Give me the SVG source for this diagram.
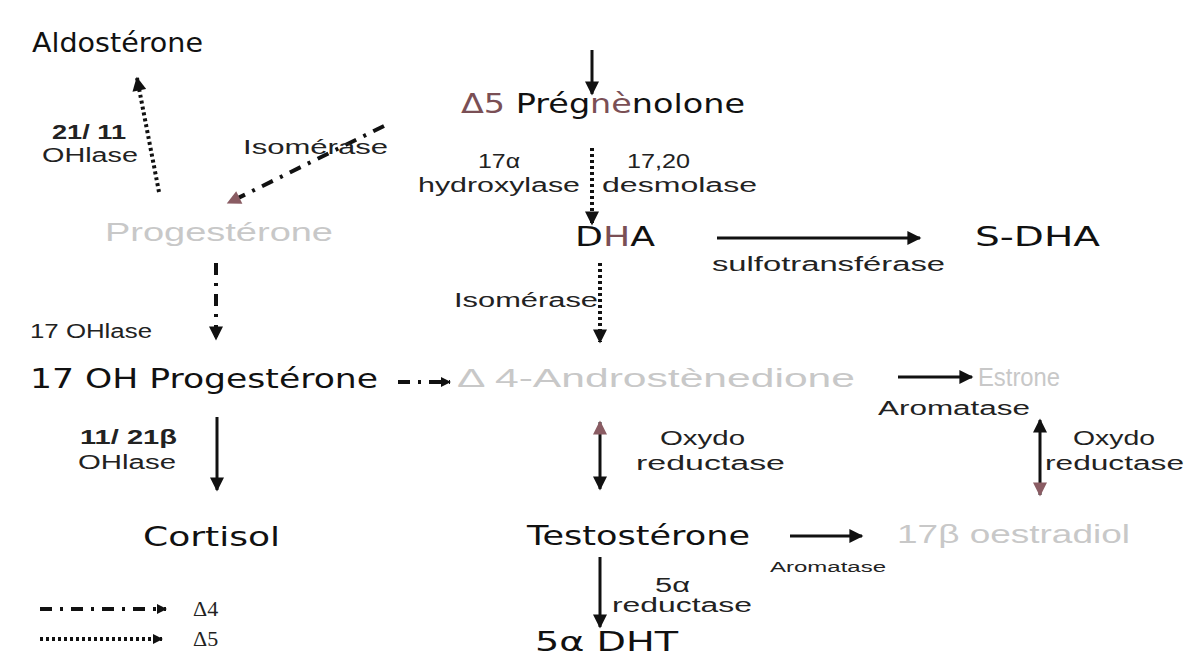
<svg xmlns="http://www.w3.org/2000/svg" width="1184" height="663" viewBox="0 0 1184 663">
<style>
.t{font-family:"DejaVu Sans","Liberation Sans",sans-serif;font-size:27px;fill:#111;}
.f{font-family:"Liberation Sans","DejaVu Sans",sans-serif;font-size:26px;fill:#c8c8c8;}
.l{font-family:"Liberation Sans","DejaVu Sans",sans-serif;font-size:20px;fill:#222;}
.s{font-family:"Liberation Sans",sans-serif;font-size:14px;fill:#222;}
.g{font-family:"Liberation Serif",serif;font-size:22px;fill:#222;}
.solid{stroke:#111;stroke-width:3;fill:none;}
.dot{stroke:#111;stroke-width:4;fill:none;stroke-dasharray:3 3;}
.dd{stroke:#111;stroke-width:4;fill:none;stroke-dasharray:12 8 3 8;}
.red{fill:#7a4f55;}
</style>
<defs>
<marker id="ah" viewBox="0 0 10 10" refX="9" refY="5" markerWidth="16" markerHeight="14" markerUnits="userSpaceOnUse" orient="auto-start-reverse"><path d="M0,0 L10,5 L0,10 z" fill="#111"/></marker>
<marker id="ahr" viewBox="0 0 10 10" refX="9" refY="5" markerWidth="16" markerHeight="14" markerUnits="userSpaceOnUse" orient="auto-start-reverse"><path d="M0,0 L10,5 L0,10 z" fill="#8a5c63"/></marker>
<marker id="ahs" viewBox="0 0 10 10" refX="9" refY="5" markerWidth="12" markerHeight="10" markerUnits="userSpaceOnUse" orient="auto"><path d="M0,0 L10,5 L0,10 z" fill="#111"/></marker>
</defs>

<g id="connectors">
<line class="solid" x1="592" y1="50" x2="592" y2="94" marker-end="url(#ah)"/>
<line class="dot" x1="592" y1="148" x2="592" y2="224" marker-end="url(#ah)"/>
<line class="dot" x1="159" y1="192" x2="137" y2="78" marker-end="url(#ah)"/>
<line class="dd" x1="384" y1="126" x2="228" y2="203" marker-end="url(#ahr)"/>
<line class="solid" x1="717" y1="238" x2="920" y2="238" marker-end="url(#ah)"/>
<line class="dd" x1="216" y1="263" x2="216" y2="339" marker-end="url(#ah)"/>
<line class="dot" x1="600" y1="263" x2="600" y2="342" marker-end="url(#ah)"/>
<line class="dd" x1="398" y1="382" x2="450" y2="382" marker-end="url(#ahs)"/>
<line class="solid" x1="898" y1="377" x2="972" y2="377" marker-end="url(#ah)"/>
<line class="solid" x1="217" y1="417" x2="217" y2="490" marker-end="url(#ah)"/>
<line class="solid" x1="600" y1="422" x2="600" y2="489" marker-start="url(#ahr)" marker-end="url(#ah)"/>
<line class="solid" x1="1040" y1="420" x2="1040" y2="495" marker-start="url(#ah)" marker-end="url(#ahr)"/>
<line class="solid" x1="790" y1="536" x2="862" y2="536" marker-end="url(#ah)"/>
<line class="solid" x1="600" y1="557" x2="600" y2="627" marker-end="url(#ah)"/>
<line class="dd" x1="40" y1="609" x2="166" y2="609" marker-end="url(#ahs)"/>
<line class="dot" x1="40" y1="639" x2="162" y2="639" stroke-width="3" marker-end="url(#ahs)"/>
</g>

<g id="aldosterone"><text class="t" x="32" y="52" font-size="22" textLength="171" lengthAdjust="spacingAndGlyphs">Aldostérone</text></g>
<g id="lbl-2111"><text class="l" x="52" y="139" font-weight="bold" textLength="74" lengthAdjust="spacingAndGlyphs">21/ 11</text><text class="l" x="42" y="162" textLength="96" lengthAdjust="spacingAndGlyphs">OHlase</text></g>
<g id="lbl-isomerase1"><text class="l" x="243" y="154" textLength="145" lengthAdjust="spacingAndGlyphs">Isomérase</text></g>
<g id="pregnenolone"><text class="t" x="461" y="113" textLength="284" lengthAdjust="spacingAndGlyphs"><tspan class="red">Δ5</tspan> Prég<tspan class="red">nè</tspan>nolone</text></g>
<g id="lbl-17a"><text class="l" x="478" y="168" textLength="42" lengthAdjust="spacingAndGlyphs">17α</text><text class="l" x="418" y="192" textLength="162" lengthAdjust="spacingAndGlyphs">hydroxylase</text></g>
<g id="lbl-1720"><text class="l" x="627" y="168" textLength="63" lengthAdjust="spacingAndGlyphs">17,20</text><text class="l" x="602" y="192" textLength="155" lengthAdjust="spacingAndGlyphs">desmolase</text></g>
<g id="progesterone"><text class="f" x="105" y="241" textLength="228" lengthAdjust="spacingAndGlyphs">Progestérone</text></g>
<g id="dha"><text class="t" x="575" y="246" textLength="80" lengthAdjust="spacingAndGlyphs">D<tspan class="red">H</tspan>A</text></g>
<g id="lbl-sulfo"><text class="l" x="712" y="271" textLength="233" lengthAdjust="spacingAndGlyphs">sulfotransférase</text></g>
<g id="sdha"><text class="t" x="975" y="246" textLength="125" lengthAdjust="spacingAndGlyphs">S-DHA</text></g>
<g id="lbl-17ohlase"><text class="l" x="30" y="338" textLength="122" lengthAdjust="spacingAndGlyphs">17 OHlase</text></g>
<g id="lbl-isomerase2"><text class="l" x="454" y="307" textLength="144" lengthAdjust="spacingAndGlyphs">Isomérase</text></g>
<g id="ohprog"><text class="t" x="30" y="388" textLength="348" lengthAdjust="spacingAndGlyphs">17 OH Progestérone</text></g>
<g id="androstenedione"><text class="f" x="457" y="387" textLength="398" lengthAdjust="spacingAndGlyphs">Δ 4-Androstènedione</text></g>
<g id="estrone"><text class="f" x="978" y="386" textLength="82" lengthAdjust="spacingAndGlyphs">Estrone</text></g>
<g id="lbl-aromatase1"><text class="l" x="878" y="415" textLength="152" lengthAdjust="spacingAndGlyphs">Aromatase</text></g>
<g id="lbl-1121"><text class="l" x="80" y="444" font-weight="bold" textLength="97" lengthAdjust="spacingAndGlyphs">11/ 21β</text><text class="l" x="78" y="469" textLength="98" lengthAdjust="spacingAndGlyphs">OHlase</text></g>
<g id="lbl-oxydo1"><text class="l" x="660" y="445" textLength="85" lengthAdjust="spacingAndGlyphs">Oxydo</text><text class="l" x="636" y="470" textLength="149" lengthAdjust="spacingAndGlyphs">reductase</text></g>
<g id="lbl-oxydo2"><text class="l" x="1073" y="445" textLength="82" lengthAdjust="spacingAndGlyphs">Oxydo</text><text class="l" x="1045" y="470" textLength="139" lengthAdjust="spacingAndGlyphs">reductase</text></g>
<g id="cortisol"><text class="t" x="143" y="546" textLength="137" lengthAdjust="spacingAndGlyphs">Cortisol</text></g>
<g id="testosterone"><text class="t" x="527" y="545" textLength="223" lengthAdjust="spacingAndGlyphs">Testostérone</text></g>
<g id="lbl-aromatase2"><text class="s" x="770" y="572" textLength="116" lengthAdjust="spacingAndGlyphs">Aromatase</text></g>
<g id="oestradiol"><text class="f" x="897" y="543" textLength="233" lengthAdjust="spacingAndGlyphs">17β oestradiol</text></g>
<g id="lbl-5a"><text class="l" x="655" y="592" textLength="35" lengthAdjust="spacingAndGlyphs">5α</text><text class="l" x="612" y="612" textLength="140" lengthAdjust="spacingAndGlyphs">reductase</text></g>
<g id="dht"><text class="t" x="535" y="651" textLength="143" lengthAdjust="spacingAndGlyphs">5α DHT</text></g>
<g id="legend"><text class="g" x="193" y="616">Δ4</text><text class="g" x="193" y="646">Δ5</text></g>
</svg>
